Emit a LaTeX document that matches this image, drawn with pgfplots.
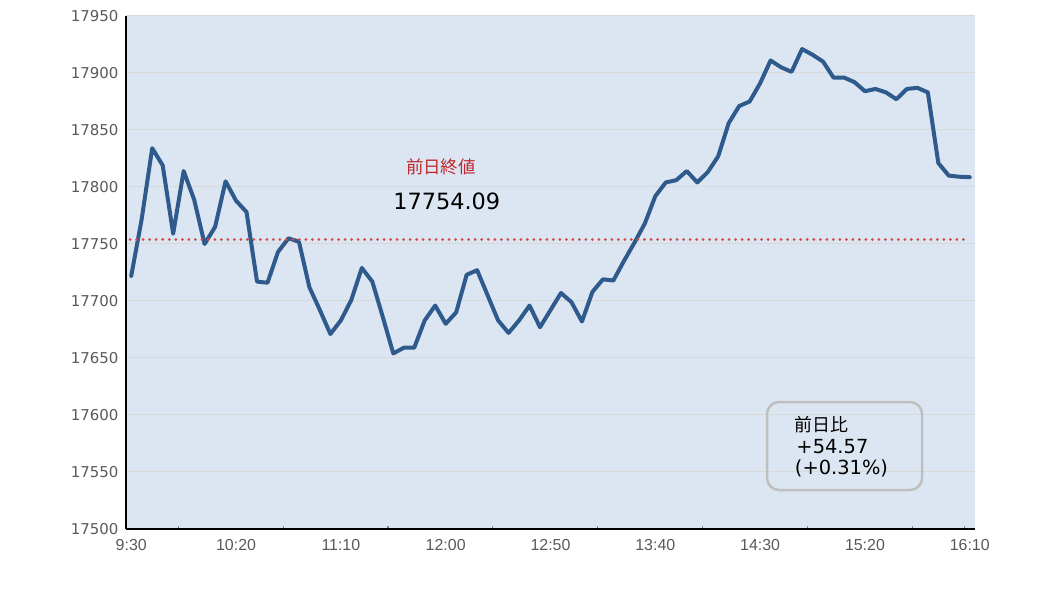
\documentclass[border=0pt]{standalone}
\usepackage{fontspec}
\setmainfont{DejaVu Sans}
\newfontfamily\cjk{Noto Sans CJK JP}
\newfontfamily\libsans{Liberation Sans}
\usepackage{pgfplots}
\usepackage{pgfplotstable}
\pgfplotsset{compat=1.18}
\definecolor{bgblue}{HTML}{DCE6F2}
\definecolor{lineblue}{HTML}{2F5A8C}
\definecolor{dotred}{HTML}{D04A45}
\definecolor{txtred}{HTML}{C0262D}
\definecolor{gridgray}{HTML}{D9D9D9}
\definecolor{lblgray}{HTML}{595959}
\definecolor{boxgray}{HTML}{BFBFBF}

\pgfplotstableread{
i v
0 17722
1 17772
2 17834
3 17819
4 17759
5 17814
6 17789
7 17750
8 17765
9 17805
10 17788
11 17778
12 17717
13 17716
14 17743
15 17755
16 17752
17 17712
18 17692
19 17671
20 17683
21 17701
22 17729
23 17717
24 17686
25 17654
26 17659
27 17659
28 17683
29 17696
30 17680
31 17690
32 17723
33 17727
34 17705
35 17683
36 17672
37 17683
38 17696
39 17677
40 17692
41 17707
42 17699
43 17682
44 17708
45 17719
46 17718
47 17735
48 17751
49 17768
50 17792
51 17804
52 17806
53 17814
54 17804
55 17813
56 17827
57 17856
58 17871
59 17875
60 17891
61 17911
62 17905
63 17901
64 17921
65 17916
66 17910
67 17896
68 17896
69 17892
70 17884
71 17886
72 17883
73 17877
74 17886
75 17887
76 17883
77 17821
78 17810
79 17809
80 17808.66
}\pricedata

\begin{document}
\begin{tikzpicture}
\path[use as bounding box] (0,0) rectangle (1038bp,598bp);
\begin{axis}[
  at={(126bp,69bp)}, anchor=south west,
  width=849bp, height=513bp, scale only axis,
  xmin=-0.5, xmax=80.5, ymin=17500, ymax=17950,
  axis background/.style={fill=bgblue},
  axis x line=bottom, axis y line=left,
  axis line style={-, black, line width=1.3bp},
  ytick={17500,17550,17600,17650,17700,17750,17800,17850,17900,17950},
  scaled y ticks=false,
  ymajorgrids, grid style={gridgray, line width=1bp},
  ytick style={draw=none},
  /pgf/number format/1000 sep={},
  /pgf/number format/assume math mode=true,
  yticklabel style={font=\fontsize{15}{17}\selectfont, text=lblgray, xshift=-4bp, /pgf/number format/fixed, /pgf/number format/precision=0},
  xtick={4.5,14.5,24.5,34.5,44.5,54.5,64.5,74.5,79.5},
  xticklabels={,,,,,,,,},
  tick align=inside,
  major tick length=3.5bp,
  xtick style={line width=1.2bp},
  extra x ticks={0,10,20,30,40,50,60,70,80},
  extra x tick labels={9:30,10:20,11:10,12:00,12:50,13:40,14:30,15:20,16:10},
  extra x tick style={major tick length=0pt, tick style={draw=none}},
  xticklabel style={font=\libsans\fontsize{16}{18}\selectfont, text=lblgray, yshift=-7bp},
  clip=false,
]
\addplot[lineblue, line width=4bp, line join=round, line cap=round, mark=none] table[x=i, y=v] {\pricedata};
\addplot[dotred, line width=3bp, line cap=round, dash pattern=on 0.01bp off 6.5bp, mark=none] coordinates {(-0.1,17754.09) (79.4,17754.09)};
\node[text=txtred, font=\cjk\fontsize{17.5}{20}\selectfont] at (axis cs:29.55,17818) {前日終値};
\node[font=\fontsize{22.5}{26}\selectfont] at (axis cs:30.1,17787) {17754.09};
\draw[boxgray, line width=2.5bp, rounded corners=12bp] (axis cs:60.66,17611.4) rectangle (axis cs:75.45,17534.2);
\node[anchor=west, inner sep=0pt, font=\cjk\fontsize{18}{20}\selectfont] at (axis cs:63.25,17591.5) {前日比};
\node[anchor=west, inner sep=0pt, font=\fontsize{19.5}{20}\selectfont] at (axis cs:63.45,17572) {+54.57};
\node[anchor=west, inner sep=0pt, font=\fontsize{19.5}{20}\selectfont] at (axis cs:63.3,17553.5) {(+0.31\%)};
\end{axis}
\end{tikzpicture}
\end{document}
